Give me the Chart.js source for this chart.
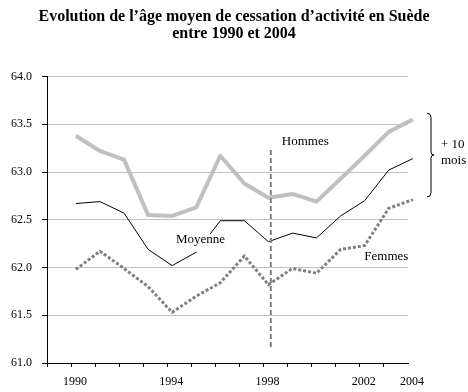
<!DOCTYPE html>
<html lang="fr">
<head>
  <meta charset="UTF-8">
  <title>Âge moyen de cessation d'activité en Suède</title>
  <script src="https://cdn.jsdelivr.net/npm/chart.js@4"></script>
  <style>
    html, body { margin: 0; padding: 0; background: #fff; }
  </style>
</head>
<body>
  <canvas id="myChart" width="468" height="392"></canvas>
  <script>
    // données (âge moyen, en années)
    const years = [1990, 1991, 1992, 1993, 1994, 1995, 1996, 1997, 1998, 1999, 2000, 2001, 2002, 2003, 2004];
    const hommes = [63.38, 63.22, 63.13, 62.55, 62.54, 62.63, 63.17, 62.88, 62.73, 62.77, 62.69, 62.93, 63.17, 63.42, 63.55];
    const moyenne = [62.67, 62.69, 62.57, 62.19, 62.02, 62.16, 62.49, 62.49, 62.27, 62.36, 62.31, 62.54, 62.70, 63.02, 63.14];
    const femmes = [61.98, 62.17, 61.99, 61.80, 61.53, 61.70, 61.84, 62.12, 61.82, 61.99, 61.94, 62.19, 62.23, 62.62, 62.71];
    const yearLabels = [1990, 1994, 1998, 2002, 2004];

    const titleLines = ['Evolution de l’âge moyen de cessation d’activité en Suède', 'entre 1990 et 2004'];

    // repères (annotations)
    const markerYear = 1998.1, markerTop = 63.23, markerBottom = 61.16;
    const notes = [
      { text: 'Hommes', year: 1999.53, value: 63.315 },
      { text: 'Moyenne', year: 1995.18, value: 62.29, mask: true },
      { text: 'Femmes', year: 2002.9, value: 62.116 }
    ];
    const gap = { top: 63.615, bottom: 62.74, lines: ['+ 10', 'mois'] };

    const serif = '"Liberation Serif", "Times New Roman", serif';
    const tickFont = { family: serif, size: 12 };

    // tick marks sit a bit left of each year, as in the original
    const tickMarks = years.map(yr => yr - 1.2).concat([2003.8]);

    const toPoints = vals => years.map((yr, i) => ({ x: yr, y: vals[i] }));

    const annotations = {
      id: 'annotations',
      afterDatasetsDraw(chart) {
        const { ctx, chartArea } = chart;
        const x = chart.scales.x, y = chart.scales.y;
        ctx.save();

        // titre centré sur toute la largeur
        ctx.fillStyle = '#000';
        ctx.font = 'bold 16px ' + serif;
        ctx.textAlign = 'center';
        ctx.textBaseline = 'middle';
        titleLines.forEach((t, i) => ctx.fillText(t, chart.width / 2, 17 + i * 17));

        // ligne verticale pointillée en 1998
        const mx = x.getPixelForValue(markerYear);
        ctx.strokeStyle = '#808080';
        ctx.lineWidth = 2;
        ctx.setLineDash([5, 3]);
        ctx.beginPath();
        ctx.moveTo(mx, y.getPixelForValue(markerTop));
        ctx.lineTo(mx, y.getPixelForValue(markerBottom));
        ctx.stroke();
        ctx.setLineDash([]);

        // étiquettes des courbes
        ctx.font = '13px ' + serif;
        notes.forEach(n => {
          const px = x.getPixelForValue(n.year), py = y.getPixelForValue(n.value);
          if (n.mask) {
            const w = ctx.measureText(n.text).width + 4;
            ctx.fillStyle = '#fff';
            ctx.fillRect(px - w / 2, py - 6, w, 18);
          }
          ctx.fillStyle = '#000';
          ctx.fillText(n.text, px, py);
        });

        // accolade + 10 mois
        const bx = chartArea.right + 19;
        const top = y.getPixelForValue(gap.top), bot = y.getPixelForValue(gap.bottom);
        const mid = (top + bot) / 2;
        ctx.strokeStyle = '#000';
        ctx.lineWidth = 1;
        ctx.beginPath();
        ctx.moveTo(bx, top);
        ctx.quadraticCurveTo(bx + 4, top, bx + 4, top + 4);
        ctx.lineTo(bx + 4, mid - 3);
        ctx.quadraticCurveTo(bx + 4, mid, bx + 7, mid);
        ctx.quadraticCurveTo(bx + 4, mid, bx + 4, mid + 3);
        ctx.lineTo(bx + 4, bot - 4);
        ctx.quadraticCurveTo(bx + 4, bot, bx, bot);
        ctx.stroke();

        ctx.textAlign = 'left';
        gap.lines.forEach((t, i) => ctx.fillText(t, bx + 14, mid - 10 + i * 16));
        ctx.restore();
      }
    };

    const ctx = document.getElementById('myChart').getContext('2d');
    new Chart(ctx, {
      type: 'line',
      data: {
        datasets: [
          { label: 'Hommes', data: toPoints(hommes), borderColor: '#c0c0c0', borderWidth: 4,
            pointRadius: 0, borderJoinStyle: 'round', clip: false },
          { label: 'Moyenne', data: toPoints(moyenne), borderColor: '#000', borderWidth: 1,
            pointRadius: 0, clip: false },
          { label: 'Femmes', data: toPoints(femmes), borderColor: '#808080', borderWidth: 3,
            borderDash: [3, 2], pointRadius: 0, clip: false }
        ]
      },
      options: {
        responsive: false,
        animation: false,
        layout: { padding: { left: 0, right: 60, top: 76.5, bottom: 1 } },
        plugins: {
          legend: { display: false },
          tooltip: { enabled: false },
          title: { display: false }
        },
        scales: {
          x: {
            type: 'linear',
            min: 1988.8,
            max: 2003.8,
            afterBuildTicks: s => { s.ticks = tickMarks.map(v => ({ value: v })); },
            afterFit: s => { s.height = 28; },
            grid: {
              drawOnChartArea: false,
              tickLength: 4,
              tickColor: c => (c.tick && c.tick.value > 2003.5) ? 'rgba(0,0,0,0)' : '#000'
            },
            border: { color: '#000' },
            ticks: {
              autoSkip: false,
              maxRotation: 0,
              labelOffset: 4,
              padding: 8,
              color: '#000',
              font: tickFont,
              callback: v => {
                const yr = Math.round(v + 0.2);
                return yearLabels.includes(yr) ? String(yr) : '';
              }
            }
          },
          y: {
            min: 61,
            max: 64,
            afterFit: s => { s.width = 47; },
            grid: { color: '#c0c0c0', tickColor: '#000', tickLength: 5 },
            border: { color: '#000' },
            ticks: {
              stepSize: 0.5,
              padding: 10,
              color: '#000',
              font: tickFont,
              callback: v => v.toFixed(1)
            }
          }
        }
      },
      plugins: [annotations]
    });
  </script>
</body>
</html>
